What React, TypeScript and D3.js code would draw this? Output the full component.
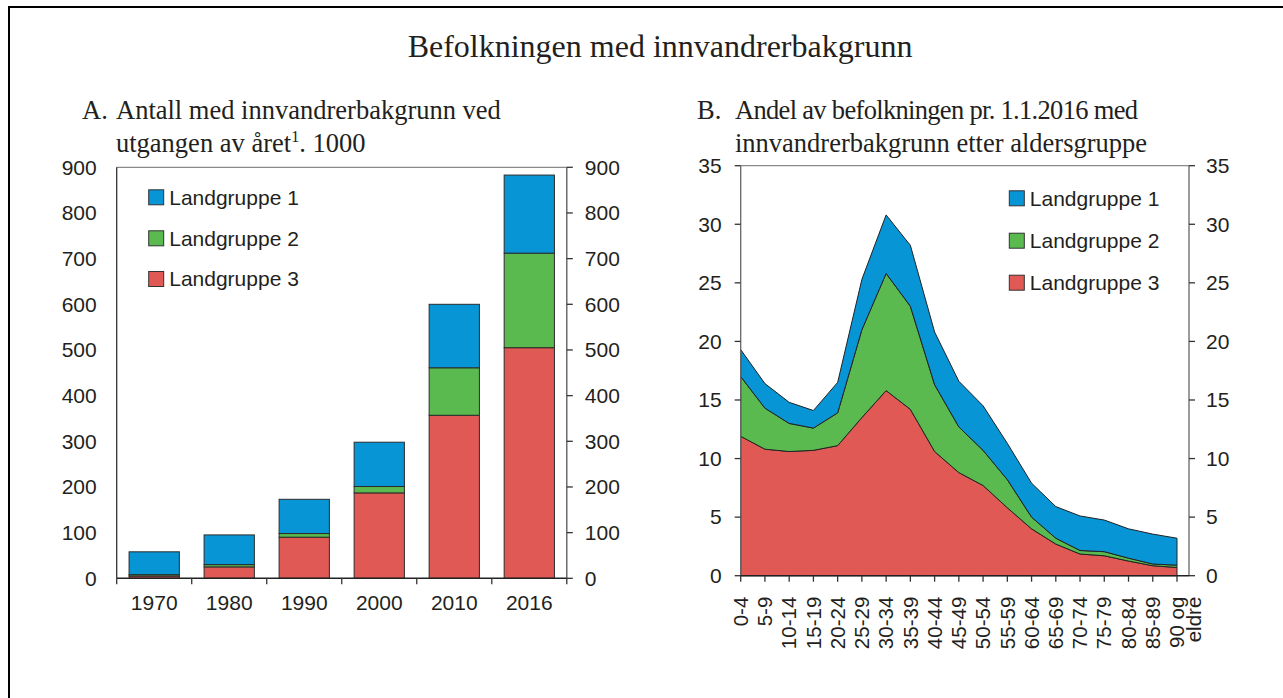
import React from 'react';
import * as d3 from 'd3';

// ---------- Data ----------
const years = ['1970', '1980', '1990', '2000', '2010', '2016'];
const aLg1 = [50, 65, 75, 97, 139, 171];
const aLg2 = [3, 5, 8, 14, 104, 207];
const aLg3 = [5, 25, 90, 187, 357, 505];
const aTicks = [0, 100, 200, 300, 400, 500, 600, 700, 800, 900];

const ages = ['0-4', '5-9', '10-14', '15-19', '20-24', '25-29', '30-34', '35-39', '40-44', '45-49', '50-54', '55-59', '60-64', '65-69', '70-74', '75-79', '80-84', '85-89', '90 og eldre'];
const bLg3 = [11.9, 10.8, 10.6, 10.7, 11.1, 13.5, 15.8, 14.2, 10.6, 8.8, 7.7, 5.8, 4.0, 2.7, 1.85, 1.7, 1.25, 0.85, 0.7];
const bLg2 = [5.1, 3.5, 2.4, 1.9, 2.8, 7.5, 10.0, 8.8, 5.7, 3.9, 3.0, 2.4, 1.0, 0.5, 0.3, 0.35, 0.25, 0.15, 0.2];
const bLg1 = [2.3, 2.1, 1.8, 1.5, 2.6, 4.3, 5.0, 5.2, 4.5, 3.9, 3.8, 3.1, 2.9, 2.7, 2.95, 2.7, 2.5, 2.55, 2.3];
const bTicks = [0, 5, 10, 15, 20, 25, 30, 35];

const legendLabels = ['Landgruppe 1', 'Landgruppe 2', 'Landgruppe 3'];
const seriesKeys = ['lg1', 'lg2', 'lg3'];
const colors: Record<string, string> = { lg1: '#0795d6', lg2: '#5aba4f', lg3: '#e15955' };

const mainTitle = 'Befolkningen med innvandrerbakgrunn';

const SANS = '"Liberation Sans", Arial, sans-serif';
const SERIF = '"Liberation Serif", "Times New Roman", serif';
const TXT = '#231f20';
const FS = 21;

export default function App() {
  // ---------- Chart A ----------
  const aL = 116.7, aR = 566.8, aT = 167.3, aB = 578.3;
  const ax = d3.scaleBand<string>().domain(years).range([aL, aR]).paddingInner(0.33).paddingOuter(0.165);
  const ay = d3.scaleLinear().domain([0, 900]).range([aB, aT]);
  const aRows = years.map((y, i) => ({ key: y, lg1: aLg1[i], lg2: aLg2[i], lg3: aLg3[i] }));
  const aStack = d3.stack<any>().keys(['lg3', 'lg2', 'lg1'])(aRows);
  const aStep = ax.step();

  // ---------- Chart B ----------
  const bL = 740.7, bR = 1189, bT = 165.7, bB = 575.7;
  const bx = d3.scalePoint<string>().domain(ages).range([bL, 1177]);
  const by = d3.scaleLinear().domain([0, 35]).range([bB, bT]);
  const bRows = ages.map((a, i) => ({ key: a, lg1: bLg1[i], lg2: bLg2[i], lg3: bLg3[i] }));
  const bStack = d3.stack<any>().keys(['lg3', 'lg2', 'lg1'])(bRows);
  const area = d3.area<any>()
    .x((d: any) => bx(d.data.key) as number)
    .y0((d: any) => by(d[0]))
    .y1((d: any) => by(d[1]));

  const legend = (x: number, ys: number[]) =>
    legendLabels.map((lab, i) => (
      <g key={lab} transform={`translate(${x},${ys[i]})`}>
        <rect x={0} y={-7.5} width={15} height={15} fill={colors[seriesKeys[i]]} stroke="#333" strokeWidth={1} />
        <text x={20.5} y={0} dy="0.35em" fontSize={FS} fontFamily={SANS} fill={TXT}>{lab}</text>
      </g>
    ));

  return (
    <svg width={1283} height={698} style={{ position: 'absolute', left: 0, top: 0, background: '#fff' }}>
      <rect x={0} y={0} width={1283} height={698} fill="#fff" />
      {/* outer frame */}
      <path d="M9,698 V7 H1283" fill="none" stroke="#000" strokeWidth={2} />

      <text x={660} y={57} textAnchor="middle" fontSize={32} fontFamily={SERIF} fill={TXT}>{mainTitle}</text>

      {/* ---- Chart A titles ---- */}
      <g fontFamily={SERIF} fontSize={26.5} fill={TXT}>
        <text x={82} y={119}>A.</text>
        <text x={116} y={119}>Antall med innvandrerbakgrunn ved</text>
        <text x={116} y={152}>utgangen av året<tspan fontSize={16} dy={-10}>1</tspan><tspan dy={10}>. 1000</tspan></text>
      </g>

      {/* Chart A bars */}
      {aStack.map((s: any) => (
        <g key={s.key} fill={colors[s.key]}>
          {s.map((d: any) => (
            <rect key={d.data.key} x={ax(d.data.key)} width={ax.bandwidth()}
              y={ay(d[1])} height={Math.max(0, ay(d[0]) - ay(d[1]))} stroke="#2b2b2b" strokeWidth={1} />
          ))}
        </g>
      ))}
      {/* Chart A frame */}
      <line x1={aL} x2={aR} y1={aT} y2={aT} stroke="#8a8a8a" strokeWidth={1.3} />
      <line x1={aL} x2={aL} y1={aT} y2={aB} stroke="#333" strokeWidth={1.3} />
      <line x1={aR} x2={aR} y1={aT} y2={aB} stroke="#555" strokeWidth={1.3} />
      <line x1={aL} x2={aR} y1={aB} y2={aB} stroke="#222" strokeWidth={1.5} />
      {years.concat(['end']).map((_, i) => (
        <line key={i} x1={aL + i * aStep} x2={aL + i * aStep} y1={aB} y2={aB + 6} stroke="#333" strokeWidth={1.3} />
      ))}
      {aTicks.map(t => (
        <g key={t}>
          <line x1={aR} x2={aR + 6} y1={ay(t)} y2={ay(t)} stroke="#333" strokeWidth={1.3} />
          <text x={aL - 20} y={ay(t)} dy="0.35em" textAnchor="end" fontSize={FS} fontFamily={SANS} fill={TXT}>{t}</text>
          <text x={aR + 18} y={ay(t)} dy="0.35em" textAnchor="start" fontSize={FS} fontFamily={SANS} fill={TXT}>{t}</text>
        </g>
      ))}
      {years.map(y => (
        <text key={y} x={(ax(y) as number) + ax.bandwidth() / 2} y={603} dy="0.35em" textAnchor="middle" fontSize={FS} fontFamily={SANS} fill={TXT}>{y}</text>
      ))}
      {legend(148.7, [197.3, 238.3, 279])}

      {/* ---- Chart B titles ---- */}
      <g fontFamily={SERIF} fontSize={26.5} fill={TXT}>
        <text x={697} y={119}>B.</text>
        <text x={735} y={119} textLength={403} lengthAdjust="spacing">Andel av befolkningen pr. 1.1.2016 med</text>
        <text x={735} y={152}>innvandrerbakgrunn etter aldersgruppe</text>
      </g>

      {bStack.map((s: any) => (
        <path key={s.key} d={area(s) as string} fill={colors[s.key]} stroke="#222" strokeWidth={1} strokeLinejoin="round" />
      ))}
      {/* Chart B frame */}
      <line x1={bL} x2={bR} y1={bT} y2={bT} stroke="#8a8a8a" strokeWidth={1.3} />
      <line x1={bL} x2={bL} y1={bT} y2={bB} stroke="#666" strokeWidth={1.3} />
      <line x1={bR} x2={bR} y1={bT} y2={bB} stroke="#666" strokeWidth={1.3} />
      <line x1={bL} x2={bR} y1={bB} y2={bB} stroke="#222" strokeWidth={1.5} />
      {ages.map(a => (
        <line key={a} x1={bx(a)} x2={bx(a)} y1={bB} y2={bB + 6} stroke="#333" strokeWidth={1.3} />
      ))}
      {bTicks.map(t => (
        <g key={t}>
          <line x1={bL - 6} x2={bL} y1={by(t)} y2={by(t)} stroke="#333" strokeWidth={1.3} />
          <line x1={bR} x2={bR + 6} y1={by(t)} y2={by(t)} stroke="#333" strokeWidth={1.3} />
          <text x={bL - 19} y={by(t)} dy="0.35em" textAnchor="end" fontSize={FS} fontFamily={SANS} fill={TXT}>{t}</text>
          <text x={bR + 17} y={by(t)} dy="0.35em" textAnchor="start" fontSize={FS} fontFamily={SANS} fill={TXT}>{t}</text>
        </g>
      ))}
      {ages.map(a => {
        const lines = a === '90 og eldre' ? ['90 og', 'eldre'] : [a];
        const x = bx(a) as number;
        return (
          <text key={a} transform={`translate(${x},${bB + 21}) rotate(-90)`} textAnchor="end" fontSize={20.5} fontFamily={SANS} fill={TXT}>
            {lines.map((l, i) => (
              <tspan key={l} x={0} dy={i === 0 ? '0.35em' : 17}>{l}</tspan>
            ))}
          </text>
        );
      })}
      {legend(1009.3, [198.3, 240.7, 282.7])}
    </svg>
  );
}
